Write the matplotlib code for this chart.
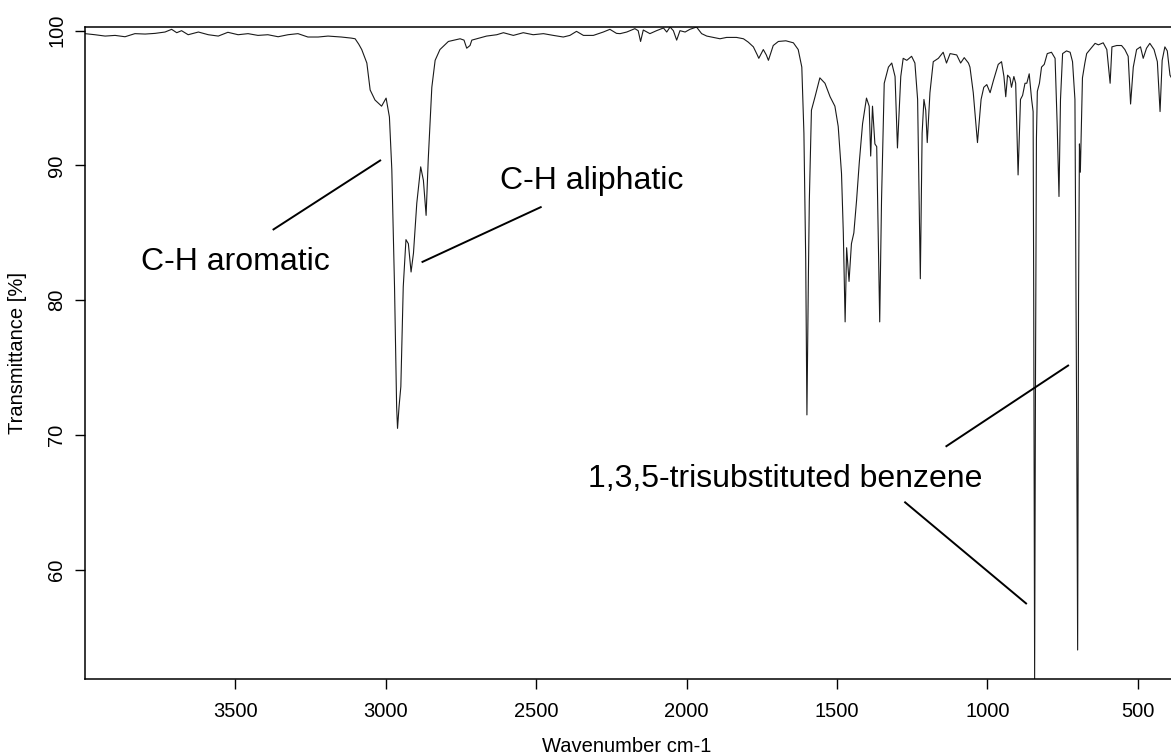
import matplotlib
matplotlib.use("Agg")
import matplotlib.pyplot as plt

# IR spectrum (wavenumber in cm-1, transmittance in %)
wavenumber = [
    4000, 3967, 3933, 3900, 3867, 3834, 3800, 3767, 3734, 3712, 3695, 3679,
    3657, 3623, 3590, 3557, 3525, 3491, 3458, 3425, 3392, 3358, 3325, 3292,
    3259, 3225, 3192, 3148, 3115, 3102, 3090, 3080, 3063, 3052, 3036, 3014,
    2999, 2988, 2980, 2971, 2964, 2961, 2956, 2950, 2942, 2933, 2925, 2916,
    2908, 2897, 2884, 2875, 2866, 2859, 2847, 2836, 2820, 2792, 2753, 2740,
    2731, 2720, 2714, 2698, 2665, 2631, 2609, 2576, 2543, 2510, 2476, 2443,
    2410, 2388, 2366, 2343, 2310, 2277, 2255, 2233, 2221, 2199, 2172, 2161,
    2153, 2144, 2122, 2100, 2077, 2066, 2055, 2044, 2033, 2022, 2005, 1989,
    1967, 1950, 1933, 1911, 1889, 1867, 1834, 1811, 1795, 1778, 1765, 1760,
    1745, 1735, 1728, 1712, 1695, 1670, 1645, 1629, 1617, 1610, 1604, 1600,
    1595, 1592, 1585, 1573, 1557, 1540, 1523, 1507, 1496, 1485, 1479, 1473,
    1468, 1460, 1452, 1444, 1435, 1426, 1415, 1402, 1393, 1388, 1382, 1374,
    1368, 1358, 1352, 1343, 1329, 1318, 1307, 1299, 1288, 1280, 1268, 1252,
    1241, 1232, 1223, 1217, 1211, 1205, 1200, 1191, 1180, 1163, 1147, 1136,
    1124, 1102, 1089, 1077, 1063, 1058, 1047, 1033, 1021, 1012, 1002, 991,
    980, 964, 953, 945, 939, 933, 925, 920, 912, 906, 898, 890,
    883, 875, 869, 861, 853, 848, 846, 843, 840, 837, 834, 827,
    820, 811, 801, 787, 775, 768, 762, 757, 750, 737, 725, 717,
    709, 703, 700, 697, 694, 691, 688, 684, 676, 670, 659, 642,
    631, 615, 603, 592, 586, 570, 554, 543, 532, 524, 515, 504,
    491, 482, 471, 460, 446, 435, 426, 419, 410, 402, 393, 388,
]
transmittance = [
    99.78, 99.70, 99.60, 99.65, 99.55, 99.78, 99.75, 99.80, 99.90, 100.10, 99.85, 100.00,
    99.70, 99.90, 99.70, 99.60, 99.88, 99.70, 99.78, 99.65, 99.70, 99.55, 99.70, 99.78,
    99.53, 99.53, 99.60, 99.53, 99.45, 99.40, 99.00, 98.60, 97.60, 95.60, 94.86, 94.40,
    95.00, 93.60, 89.70, 81.00, 72.10, 70.50, 72.10, 73.60, 81.00, 84.50, 84.20, 82.10,
    83.50, 87.20, 89.90, 88.90, 86.30, 90.40, 95.80, 97.80, 98.60, 99.20, 99.40, 99.30,
    98.70, 98.90, 99.30, 99.40, 99.60, 99.70, 99.85, 99.65, 99.85, 99.70, 99.78, 99.65,
    99.53, 99.65, 99.95, 99.65, 99.65, 99.90, 100.10, 99.80, 99.78, 99.90, 100.15, 100.00,
    99.20, 100.05, 99.78, 100.00, 100.20, 99.90, 100.27, 100.00, 99.30, 100.00, 99.90, 100.10,
    100.27, 99.78, 99.60, 99.50, 99.40, 99.50, 99.50, 99.40, 99.15, 98.80, 98.20, 97.95,
    98.60, 98.20, 97.80, 98.90, 99.20, 99.25, 99.10, 98.60, 97.30, 92.40, 83.00, 71.50,
    82.00, 87.40, 94.10, 95.10, 96.50, 96.10, 95.10, 94.40, 92.90, 89.40, 85.00, 78.40,
    83.90, 81.40, 84.20, 85.00, 87.40, 90.20, 93.10, 95.00, 94.40, 90.70, 94.40, 91.60,
    91.40, 78.40, 87.40, 96.10, 97.30, 97.60, 96.60, 91.30, 96.60, 97.95, 97.80, 98.10,
    97.60, 94.90, 81.60, 92.40, 94.90, 94.10, 91.70, 95.40, 97.70, 97.95, 98.40, 97.60,
    98.30, 98.20, 97.60, 98.00, 97.60, 97.30, 95.40, 91.70, 94.90, 95.80, 96.00, 95.40,
    96.30, 97.50, 97.70, 96.60, 95.10, 96.70, 96.50, 95.80, 96.60, 96.10, 89.30, 94.90,
    95.20, 96.10, 96.10, 96.80, 94.90, 94.00, 80.00, 51.90, 75.00, 92.00, 95.50, 96.10,
    97.30, 97.50, 98.30, 98.40, 97.95, 93.00, 87.70, 94.90, 98.30, 98.50, 98.40, 97.70,
    94.90, 70.00, 54.06, 80.00, 91.60, 89.50, 92.50, 96.50, 97.60, 98.30, 98.60, 99.06,
    98.95, 99.10, 98.60, 96.10, 98.80, 98.90, 98.90, 98.60, 98.10, 94.56, 97.30, 98.60,
    98.80, 97.95, 98.70, 99.06, 98.60, 97.70, 94.00, 97.80, 98.80, 98.50, 96.70, 96.50,
]

# band labels: text, text anchor (wn, T), alignment
label_texts = ["C-H aromatic", "C-H aliphatic", "1,3,5-trisubstituted benzene"]
label_wn = [3501, 2620, 1016]
label_t = [82.25, 88.29, 66.17]
label_ha = ["center", "left", "right"]

# pointer lines: (wn0, T0, wn1, T1)
pointer_lines = [
    (3376, 85.22, 3016, 90.41),
    (2881, 82.82, 2482, 86.94),
    (1139, 69.14, 729, 75.20),
    (1276, 65.06, 869, 57.47),
]

plt.rcParams['font.family'] = ['Liberation Sans', 'DejaVu Sans']

W, H = 1171, 756
fig = plt.figure(figsize=(W / 100, H / 100), dpi=100)

# plot box in pixels; right side runs past the picture edge like the reference
left_px, top_px, bottom_px = 85, 26.5, 679
px_per_wn = 0.3008
xmax, xmin = 4000, 380
ax = fig.add_axes([left_px / W, (H - bottom_px) / H,
                   (xmax - xmin) * px_per_wn / W, (bottom_px - top_px) / H])

ax.plot(wavenumber, transmittance, color='#1a1a1a', lw=0.8)

for (w0, t0, w1, t1) in pointer_lines:
    ax.plot([w0, w1], [t0, t1], color='black', lw=1.4, solid_capstyle='butt')

for txt, w, t, ha in zip(label_texts, label_wn, label_t, label_ha):
    ax.text(w, t, txt, ha=ha, va='baseline', fontsize=23)

ax.set_xlim(xmax, xmin)
ax.set_ylim(51.91, 100.31)
ax.set_xticks([3500, 3000, 2500, 2000, 1500, 1000, 500])
ax.set_yticks([60, 70, 80, 90, 100])

ax.tick_params(axis='both', labelsize=14.5, length=7.5, width=1.0, direction='out')
ax.tick_params(axis='x', pad=9)
ax.tick_params(axis='y', pad=6)
for lab in ax.get_yticklabels():
    lab.set_rotation(90)
    lab.set_va('center')

for side in ['left', 'bottom', 'top', 'right']:
    ax.spines[side].set_linewidth(1.1)

fig.text(18 / W, 1 - 352.7 / H, 'Transmittance [%]', rotation=90,
         ha='center', va='center', fontsize=14.5)
fig.text(627 / W, (H - 751.7) / H, 'Wavenumber cm-1',
         ha='center', va='baseline', fontsize=14.5)

fig.savefig('out.png', dpi=100)
